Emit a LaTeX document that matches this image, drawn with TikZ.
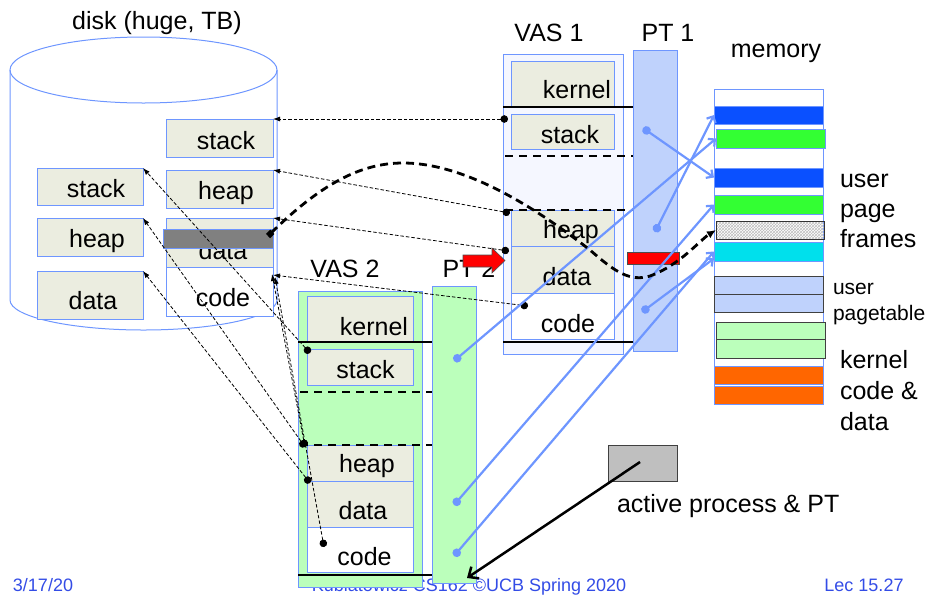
\documentclass[tikz,border=0pt]{standalone}
\usepackage{fontspec}
\setmainfont{Liberation Sans}
\usetikzlibrary{arrows.meta,patterns}
\pgfdeclarelayer{bg}
\pgfsetlayers{bg,main}
\definecolor{bline}{RGB}{110,150,255}
\definecolor{segfill}{RGB}{235,237,224}
\definecolor{vasfill}{RGB}{245,247,255}
\definecolor{ptblue}{RGB}{191,210,252}
\definecolor{ptgreen}{RGB}{187,255,187}
\definecolor{memblue}{RGB}{10,80,255}
\definecolor{memgreen}{RGB}{51,255,51}
\definecolor{memcyan}{RGB}{0,224,236}
\definecolor{memorange}{RGB}{255,102,0}
\definecolor{footblue}{RGB}{51,76,230}
\tikzset{
    every node/.style={rectangle, inner sep=0pt, outer sep=0pt, line width=1pt}
}
\tikzset{
    seg/.style={draw=bline, fill=segfill},
    band/.style={draw=bline, minimum width=109pt},
    lbl/.style={anchor=base, font=\fontsize{25}{30}\selectfont},
    foot/.style={anchor=base, text=footblue, font=\fontsize{18}{20}\selectfont},
    sepline/.style={line width=2.5pt},
    sepdash/.style={line width=2.5pt, dash pattern=on 8pt off 6pt},
    tdash/.style={line width=0.8pt, dash pattern=on 3.5pt off 2pt,
        arrows={Circle[length=7.5pt]-Latex[length=7pt,width=5pt]}},
    pline/.style={draw=bline, line width=2.2pt,
        arrows={Circle[length=8.5pt]-Straight Barb[length=5pt,width=10pt]}}
}

\begin{document}
\begin{tikzpicture}[x=1pt,y=-1pt]
  \useasboundingbox (0,0) rectangle (936,595);

  \begin{pgfonlayer}{bg}
    \node[foot] (date) at (43,591) {3/17/20};
    \node[foot] (course) at (469,591) {Kubiatowicz CS162 ©UCB Spring 2020};
    \node[foot] (lec) at (864,591) {Lec 15.27};
  \end{pgfonlayer}

  % disk
  \draw[bline, line width=1pt] (10,70) -- (10,300)
    arc[start angle=180, end angle=360, x radius=133.5pt, y radius=30pt] -- (277,70);
  \draw[bline, line width=1pt] (143.5,70) ellipse [x radius=133.5pt, y radius=33pt];
  \node[lbl] (diskl) at (157,29) {disk (huge, TB)};

  \node[seg, minimum width=107pt, minimum height=38pt] (dstk) at (219.5,138) {};
  \node[seg, minimum width=107pt, minimum height=38pt] (dheap) at (219.5,189) {};
  \node[seg, minimum width=107pt, minimum height=49pt] (ddata) at (219.5,242.5) {};
  \node[seg, fill=white, minimum width=107pt, minimum height=49pt] (dcode) at (219.5,291.5) {};
  \node[seg, minimum width=106pt, minimum height=37pt] (lstk) at (90,186.5) {};
  \node[seg, minimum width=106pt, minimum height=38pt] (lheap) at (90,237) {};
  \node[seg, minimum width=106pt, minimum height=48pt] (ldata) at (90,295) {};

  \node[lbl] (dstkl) at (226,149) {stack};
  \node[lbl] (dheapl) at (226,199) {heap};
  \node[lbl] (ddatal) at (223,259) {data};
  \node[lbl] (dcodel) at (223,306) {code};
  \node[lbl] (lstkl) at (96,197) {stack};
  \node[lbl] (lheapl) at (97,247) {heap};
  \node[lbl] (ldatal) at (93,309) {data};

  \node[draw=bline, fill=black!50, minimum width=110pt, minimum height=19pt] (gray) at (218,238.5) {};

  % VAS 1 and PT 1
  \node[draw=bline, fill=vasfill, minimum width=120pt, minimum height=300pt] (vas1) at (563,204) {};
  \node[seg, minimum width=103pt, minimum height=45pt] (k1) at (562.5,83.5) {};
  \node[seg, minimum width=103pt, minimum height=35pt] (s1) at (562.5,131.5) {};
  \node[seg, minimum width=103pt, minimum height=36pt] (h1) at (562.5,228) {};
  \node[seg, minimum width=103pt, minimum height=47pt] (d1) at (562.5,269.5) {};
  \node[seg, fill=white, minimum width=103pt, minimum height=46pt] (c1) at (562.5,316) {};
  \node[draw=bline, fill=ptblue, minimum width=44pt, minimum height=301pt] (pt1) at (655,200.5) {};

  \node[lbl] (vas1l) at (549,41) {VAS 1};
  \node[lbl] (pt1l) at (668,41) {PT 1};
  \node[lbl] (k1l) at (577,98) {kernel};
  \node[lbl] (s1l) at (570,143) {stack};
  \node[lbl] (h1l) at (571,238) {heap};
  \node[lbl] (d1l) at (567,285) {data};
  \node[lbl] (c1l) at (568,332) {code};

  \draw[sepline] (503,107) -- (633,107);
  \draw[sepdash] (505,156) -- (633,156);
  \draw[sepdash] (505,210) -- (633,210);
  \draw[sepline] (503,342) -- (633,342);

  % VAS 2 and PT 2
  \node[draw=bline, fill=ptgreen, minimum width=124pt, minimum height=296pt] (vas2) at (360,439) {};
  \node[seg, minimum width=106pt, minimum height=46pt] (k2) at (360,319) {};
  \node[seg, minimum width=106pt, minimum height=36pt] (s2) at (360,367) {};
  \node[seg, minimum width=106pt, minimum height=36pt] (h2) at (360,463) {};
  \node[seg, minimum width=106pt, minimum height=46pt] (d2) at (360,504) {};
  \node[seg, fill=white, minimum width=106pt, minimum height=45pt] (c2) at (360,549.5) {};
  \node[draw=bline, fill=ptgreen, minimum width=44pt, minimum height=297pt] (pt2) at (454,434.5) {};

  \node[lbl] (vas2l) at (345,277) {VAS 2};
  \node[lbl] (pt2l) at (469,277) {PT 2};
  \node[lbl] (k2l) at (374,335) {kernel};
  \node[lbl] (s2l) at (365.5,378) {stack};
  \node[lbl] (h2l) at (367,472) {heap};
  \node[lbl] (d2l) at (363,519) {data};
  \node[lbl] (c2l) at (364.5,565) {code};

  \draw[sepline] (298,342) -- (432,342);
  \draw[sepdash] (300,392) -- (432,392);
  \draw[sepdash] (300,445) -- (432,445);
  \draw[sepline] (298,575) -- (432,575);

  % memory
  \node[draw=bline, fill=white, minimum width=109pt, minimum height=315pt] (mem) at (768.5,246.5) {};
  \node[band, fill=memblue, minimum height=18pt] (m1) at (768.5,115) {};
  \node[band, fill=memgreen, minimum height=19pt] (m2) at (770.5,138.5) {};
  \node[band, fill=memblue, minimum height=19pt] (m3) at (768.5,177.5) {};
  \node[band, fill=memgreen, minimum height=19pt] (m4) at (768.5,204.5) {};
  \node[band, draw=black!80, line width=0.8pt, pattern=crosshatch, pattern color=black!25,
        minimum width=108pt, minimum height=18pt] (m5) at (770,230) {};
  \node[band, fill=memcyan, minimum height=19pt] (m6) at (768.5,251.5) {};
  \node[band, draw=black!75, fill=ptblue, minimum height=18pt] (m7a) at (768.5,285) {};
  \node[band, draw=black!75, fill=ptblue, minimum height=18pt] (m7b) at (768.5,303) {};
  \node[band, draw=black!75, fill=ptgreen, minimum height=17pt] (m8a) at (770.5,330.5) {};
  \node[band, draw=black!75, fill=ptgreen, minimum height=19pt] (m8b) at (770.5,348.5) {};
  \node[band, fill=memorange, minimum height=18pt] (m9a) at (768.5,375) {};
  \node[band, fill=memorange, minimum height=18pt] (m9b) at (768.5,395) {};

  \node[lbl] (meml) at (776,57) {memory};
  \node[lbl, anchor=base west, align=left] (framel) at (840,247) {user\\page\\frames};
  \node[lbl, anchor=base west, align=left, font=\fontsize{21}{26}\selectfont] (ptl) at (833,320) {user\\pagetable};
  \node[lbl, anchor=base west, align=left, font=\fontsize{25}{31}\selectfont] (kernl) at (840,430) {kernel\\code \&\\data};

  % active process
  \node[draw=black!75, fill=black!25, minimum width=69pt, minimum height=36pt] (act) at (642.5,463) {};
  \node[lbl, anchor=base west] (actl) at (617,512) {active process \& PT};

  % red markers
  \draw[fill=red, draw=black!70, line width=0.6pt] (463,255) -- (492,255) -- (492,248)
    -- (505,260.5) -- (492,273) -- (492,267) -- (463,267) -- cycle;
  \node[draw=black!70, fill=red, line width=0.6pt, minimum width=52pt, minimum height=12pt] (red1) at (653,258) {};

  % dots
  \coordinate (s1dot) at (508,119);
  \coordinate (h1dot) at (510,213);
  \coordinate (d1dot) at (509,251);
  \coordinate (c1dot) at (528,306);
  \coordinate (s2dot) at (310,353);
  \coordinate (h2dot) at (305,447);
  \coordinate (d2dot) at (310,483);
  \coordinate (c2dot) at (324,547);
  \coordinate (p1s) at (643,128);
  \coordinate (p1h) at (655,232);
  \coordinate (p1c) at (642,312);
  \coordinate (p2s) at (454,361);
  \coordinate (p2d) at (454,505);
  \coordinate (p2c) at (454,556);
  \coordinate (gstart) at (268,236);
  \coordinate (actp) at (640,462);
  \coordinate (actend) at (467,578);

  % disk mappings
  \draw[tdash] (s1dot) -- (dstk.north east);
  \draw[tdash] (h1dot) -- (dheap.north east);
  \draw[tdash] (d1dot) -- (ddata.north east);
  \draw[tdash] (c1dot) -- ([yshift=-8pt]dcode.north east);
  \draw[tdash] (s2dot) -- (lstk.north east);
  \draw[tdash] (h2dot) -- (lheap.north east);
  \draw[tdash] (d2dot) -- (ldata.north east);
  \draw[tdash] (h2dot) -- ([xshift=-1pt,yshift=-7pt]dcode.north east);
  \draw[tdash] (c2dot) -- ([xshift=2pt,yshift=-10pt]dcode.north east);

  % page table entries
  \draw[pline] (p1s) -- (m3.west);
  \draw[pline] (p1h) -- (m1.west);
  \draw[pline] (p1c) -- ([yshift=-7pt]m6.west);
  \draw[pline] (p2s) -- (m2.west);
  \draw[pline] (p2d) -- (m4.west);
  \draw[pline] (p2c) -- (m6.west);

  % paging in
  \draw[line width=2.8pt, dash pattern=on 8pt off 5pt,
        arrows={Square[length=6pt]-Latex[length=9pt,width=8pt]}]
    (gstart) .. controls (320,185) and (360,163) .. (403,163)
    .. controls (470,163) and (545,215) .. (590,250)
    .. controls (615,272) and (630,282) .. (650,276)
    .. controls (680,265) and (700,240) .. (m5.west);

  \draw[line width=2.5pt, arrows={-Straight Barb[length=8pt,width=14pt]}] (actp) -- (actend);
\end{tikzpicture}
\end{document}
